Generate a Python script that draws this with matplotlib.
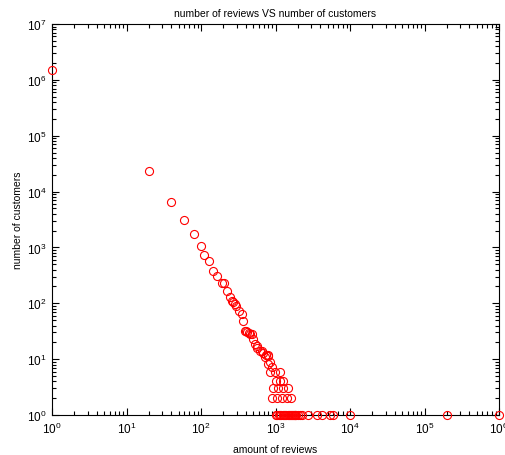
import matplotlib
matplotlib.use("Agg")
import matplotlib.pyplot as plt
from matplotlib.ticker import LogLocator, LogFormatterMathtext, NullFormatter

plt.rcParams['font.family'] = ['Liberation Sans', 'DejaVu Sans']
plt.rcParams['mathtext.default'] = 'regular'

reviews = [1, 20, 40, 60, 80, 100, 110, 128, 146, 165, 190, 206, 220, 245, 258, 270,
           285, 295, 325, 350, 370, 390, 403, 420, 445, 460, 480, 500, 530, 560, 570,
           620, 650, 680, 720, 750, 800, 800, 840, 890,
           800, 840, 990, 1150,
           1000, 1150, 1280,
           930, 1090, 1270, 1490,
           890, 1040, 1210, 1420, 1620,
           1000, 1050, 1100, 1150, 1200, 1250, 1300, 1350, 1400, 1450, 1500, 1550,
           1600, 1650, 1700, 1750, 1800, 1850, 1900, 2000, 2100, 2240,
           2760, 3570, 4170, 5400, 5970, 10000, 200000, 1000000]
customers = [1500000, 23000, 6500, 3100, 1750, 1050, 740, 560, 380, 310, 235, 230, 167, 128, 111, 104,
             97, 88, 74, 64, 49, 32, 32, 30, 29.5, 28, 28, 23, 19, 16, 17,
             14, 14, 13, 10.8, 12, 11.5, 12, 8.8, 7.1,
             8.2, 6, 6, 6,
             4, 4, 4,
             3, 3, 3, 3,
             2, 2, 2, 2, 2,
             1, 1, 1, 1, 1, 1, 1, 1, 1, 1, 1, 1,
             1, 1, 1, 1, 1, 1, 1, 1, 1, 1,
             1, 1, 1, 1, 1, 1, 1, 1]

title = "number of reviews VS number of customers"
xlabel = "amount of reviews"
ylabel = "number of customers"

fig = plt.figure(figsize=(5.05, 4.56), dpi=100)
ax = fig.add_axes([52/505, 40/456, (499-52)/505, (416-25)/456])
ax.set_xscale('log')
ax.set_yscale('log')
ax.plot(reviews, customers, linestyle='none', marker='o', markersize=5.8,
        markerfacecolor='none', markeredgecolor='red', markeredgewidth=0.8, clip_on=False, zorder=3)
ax.set_xlim(1, 1e6)
ax.set_ylim(1, 1e7)

ax.xaxis.set_major_locator(LogLocator(base=10, numticks=20))
ax.yaxis.set_major_locator(LogLocator(base=10, numticks=20))
ax.xaxis.set_minor_locator(LogLocator(base=10, subs=range(2, 10), numticks=100))
ax.yaxis.set_minor_locator(LogLocator(base=10, subs=range(2, 10), numticks=100))
ax.xaxis.set_minor_formatter(NullFormatter())
ax.yaxis.set_minor_formatter(NullFormatter())
ax.xaxis.set_major_formatter(LogFormatterMathtext())
ax.yaxis.set_major_formatter(LogFormatterMathtext())

ax.tick_params(which='both', direction='in', top=True, right=True, labelsize=8.5, width=0.8, color='black')
ax.tick_params(which='major', length=5, pad=4)
ax.tick_params(which='minor', length=3)
for s in ax.spines.values():
    s.set_linewidth(0.8)

ax.set_title(title, fontsize=7.5, pad=6)
ax.set_xlabel(xlabel, fontsize=7.5, labelpad=6)
ax.set_ylabel(ylabel, fontsize=7.5, labelpad=3)

fig.savefig("out.png", dpi=100)
